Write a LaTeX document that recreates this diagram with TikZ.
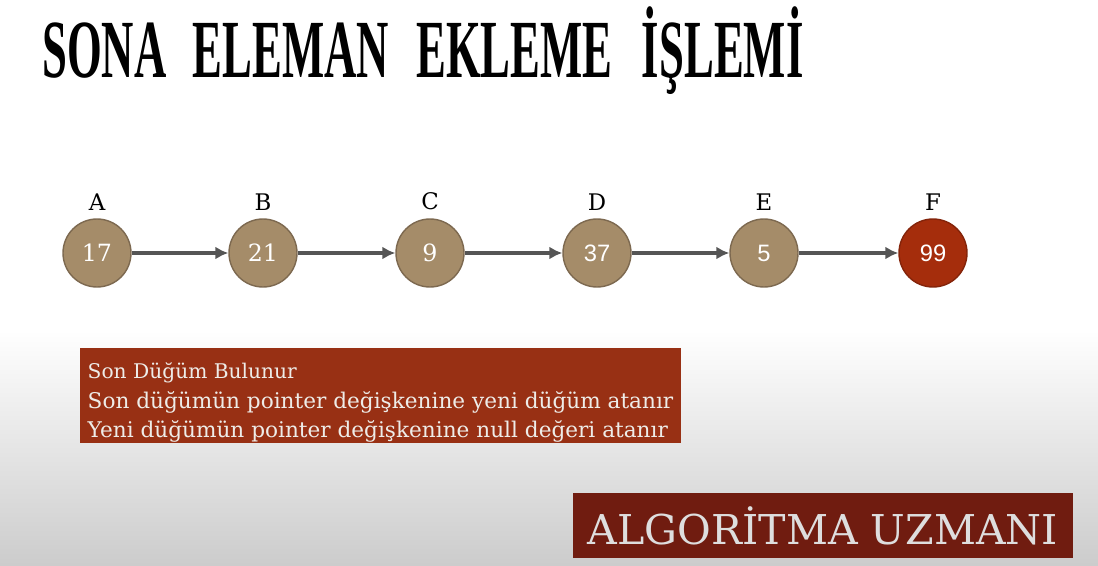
\documentclass[tikz,border=0pt]{standalone}
\usepackage{fontspec}
\setmainfont{DejaVu Serif}
\newfontfamily\sansnum{Liberation Sans}
\newfontfamily\baslikfont{Liberation Serif}
\usepackage{xcolor}
\usepackage{tikz}
\usetikzlibrary{arrows.meta, calc}
\definecolor{dugumrenk}{RGB}{165,140,105}
\definecolor{dugumkenar}{RGB}{125,105,80}
\definecolor{yenirenk}{RGB}{165,45,12}
\definecolor{kuturenk}{RGB}{152,48,20}
\definecolor{logorenk}{RGB}{112,28,16}
\definecolor{okrenk}{RGB}{85,85,85}
\definecolor{yazirenk}{RGB}{238,236,232}

\begin{document}
\begin{tikzpicture}[x=0.02cm, y=-0.02cm]
\useasboundingbox (0,0) rectangle (1098,565);
\fill[white] (0,0) rectangle (1098,330);
\shade[top color=white, bottom color=black!20] (0,330) rectangle (1098,565);

% baslik
\node(baslik)[anchor=base west, inner sep=0] at (42,77)
  {\scalebox{0.53}[0.98]{\fontsize{48}{48}\baslikfont\bfseries
   SONA\hspace{1.0cm}ELEMAN\hspace{1.02cm}EKLEME\hspace{1.08cm}İ\hspace{1pt}ŞLEM\hspace{1pt}İ}};

\tikzset{
  dugum/.style={circle, draw=dugumkenar, fill=dugumrenk, thick, minimum size=1.36cm, inner sep=0,
    text=white, font=\fontsize{13.5}{13.5}\selectfont},
  yeni/.style={dugum, draw=yenirenk!80!black, fill=yenirenk},
  etiket/.style={font=\fontsize{13}{13}\selectfont, label distance=0.04cm},
  bag/.style={-{Latex[length=0.26cm, width=0.26cm]}, draw=okrenk, line width=0.065cm}
}

% dugumler
\node(a)[dugum, label={[etiket]above:A}] at (97,253) {17};
\node(b)[dugum, label={[etiket]above:B}] at (263,253) {21};
\node(c)[dugum, label={[etiket]above:C}] at (430,253) {9};
\node(d)[dugum, label={[etiket]above:D}] at (597,253) {\sansnum 37};
\node(e)[dugum, label={[etiket]above:E}] at (764,253) {\sansnum 5};
\node(f)[yeni, label={[etiket]above:F}] at (933,253) {\sansnum 99};

\draw[bag] (a) -- (b);
\draw[bag] (b) -- (c);
\draw[bag] (c) -- (d);
\draw[bag] (d) -- (e);
\draw[bag] (e) -- (f);

% aciklama kutusu
\node(adimlar)[fill=kuturenk, text=yazirenk, inner xsep=0.12cm, inner ysep=0, minimum width=12.02cm,
  minimum height=1.9cm, align=left, font=\fontsize{12.3}{16.1}\selectfont] at (380.5,395.5)
  {{\fontsize{11.5}{16.1}\selectfont\rule{0pt}{17pt}Son Düğüm Bulunur}\\[1pt]
   Son düğümün pointer değişkenine yeni düğüm atanır\\
   Yeni düğümün pointer değişkenine null değeri atanır};

% logo
\node(logo)[fill=logorenk, text=black!13, minimum width=10cm, minimum height=1.3cm,
  inner sep=0, font=\fontsize{23.4}{23.4}\selectfont] at (823,525.5) {ALGORİTMA UZMANI};
\end{tikzpicture}
\end{document}
